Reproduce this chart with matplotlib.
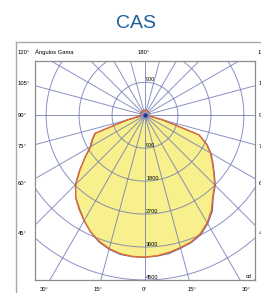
import numpy as np
import matplotlib.pyplot as plt
from matplotlib.lines import Line2D

# photometric data (gamma angle in degrees, intensity in cd)
gamma = [-180, -150, -120, -100, -90, -85, -80, -75, -70, -65, -60, -55, -50, -45,
         -40, -35, -30, -25, -20, -15, -10, -5, 0, 5, 10, 15, 20, 25, 30, 35, 40,
         45, 50, 55, 60, 65, 70, 75, 80, 85, 90, 100, 120, 150, 180]
c0_c180 = [130, 130, 130, 120, 100, 110, 160, 500, 1460, 1600, 1730, 2000, 2310, 2670,
           2950, 3140, 3330, 3510, 3660, 3770, 3840, 3870, 3875, 3850, 3800, 3740,
           3680, 3570, 3390, 3160, 2880, 2690, 2450, 2240, 2060, 1840, 1560, 500,
           160, 110, 100, 120, 130, 130, 130]
c90_c270 = [135, 135, 135, 125, 105, 115, 170, 520, 1440, 1580, 1710, 1990, 2330, 2690,
            2940, 3120, 3320, 3520, 3680, 3790, 3860, 3880, 3880, 3860, 3830, 3760,
            3700, 3600, 3420, 3200, 2900, 2710, 2470, 2260, 2080, 1860, 1570, 520,
            170, 115, 105, 125, 135, 135, 135]

circle_vals = [900, 1800, 2700, 3600, 4500]
side_labels = [105, 90, 75, 60, 45]
bottom_labels = [-30, -15, 0, 15, 30]

grid_col = '#6d76b4'
plt.rcParams['font.family'] = ['Liberation Sans', 'DejaVu Sans']

fig = plt.figure(figsize=(2.61, 2.93), dpi=100)
W, H = 261, 293

fig.text(136 / W, 1 - 24 / H, 'CAS', ha='center', va='center',
         fontsize=14, color='#1d5f9c')

# outer frame (runs past the image edge)
fig.add_artist(Line2D([16 / W, 16 / W], [0, 1 - 42 / H], color='#a8a8a8', lw=1.0))
fig.add_artist(Line2D([16 / W, 1.0], [1 - 42 / H, 1 - 42 / H], color='#a8a8a8', lw=1.0))

hdr_y = 1 - 52 / H
fig.text(18 / W, hdr_y, '120°', fontsize=4.2, va='center')
fig.text(35 / W, hdr_y, 'Ángulos Gama', fontsize=4.2, va='center')
fig.text(138 / W, hdr_y, '180°', fontsize=4.2, va='center')
fig.text(258 / W, hdr_y, '120°', fontsize=4.2, va='center')

ax = fig.add_axes([35 / W, 1 - 280 / H, 220 / W, 219 / H])
ax.set_xlim(-3000, 3000)
ax.set_ylim(-4500, 1480)
ax.set_aspect('equal')
ax.set_xticks([])
ax.set_yticks([])
for s in ax.spines.values():
    s.set_color('#8c8c8c')
    s.set_linewidth(0.9)

g = np.radians(gamma)
x0 = np.array(c0_c180) * np.sin(g)
y0 = -np.array(c0_c180) * np.cos(g)
x1 = np.array(c90_c270) * np.sin(g)
y1 = -np.array(c90_c270) * np.cos(g)

ax.fill(x1, y1, color='#f7f08c', zorder=1, lw=0)
ax.fill(x0, y0, color='#f7f08c', zorder=1, lw=0)

# polar grid
t = np.linspace(0, 2 * np.pi, 400)
for r in range(900, 8100, 900):
    ax.plot(r * np.cos(t), r * np.sin(t), color=grid_col, lw=0.7, alpha=0.8, zorder=2)
for a in range(0, 360, 15):
    ar = np.radians(a)
    ax.plot([0, 9000 * np.sin(ar)], [0, -9000 * np.cos(ar)], color=grid_col,
            lw=0.7, alpha=0.8, zorder=2)

ax.plot(x1, y1, color='#5a68a6', lw=0.9, zorder=3)
ax.plot(x0, y0, color='#f06a24', lw=0.9, zorder=4)
ax.plot([0], [0], 'o', color='#8c95c8', ms=6, mew=0, zorder=5)
ax.plot([0], [0], 'o', color='#22397a', ms=3.2, mew=0, zorder=6)

# radial value labels
ax.text(30, 900, '900', fontsize=4, va='bottom', ha='left', zorder=7)
for r in circle_vals:
    ax.text(30, -r, str(r), fontsize=4, va='bottom', ha='left', zorder=7)
ax.text(2900, -4470, 'cd', fontsize=4, va='bottom', ha='right', zorder=7)

# angle labels on the sides and bottom
for a in side_labels:
    yy = -3000 / np.tan(np.radians(a)) * 1.08 if a != 90 else 0
    ax.text(-3000 - 480, yy, f'{a}°', fontsize=4.2, va='center', ha='left', clip_on=False)
    ax.text(3000 + 100, yy, f'{a}°', fontsize=4.2, va='center', ha='left', clip_on=False)
for a in bottom_labels:
    xx = 4500 * np.tan(np.radians(a)) * 1.06
    ax.text(xx, -4500 - 270, f'{abs(a)}°', fontsize=4.2, va='center', ha='center',
            clip_on=False)

plt.savefig('out.png', dpi=100)
